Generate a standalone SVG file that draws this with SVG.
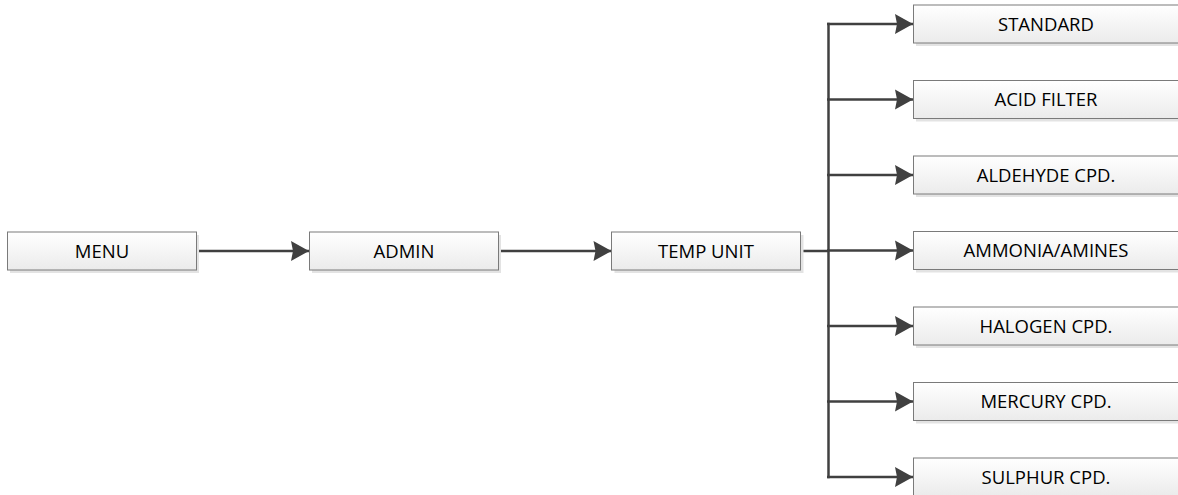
<svg xmlns="http://www.w3.org/2000/svg" width="1178" height="495" viewBox="0 0 1178 495">
<style>
.box{fill:url(#g);stroke:#7a7a7a;stroke-width:1}
.sh{fill:#e3e3e3}
.t{font-family:"Open Sans","Liberation Sans",sans-serif;font-size:18.5px;fill:#000;text-anchor:middle}
.c{fill:none;stroke:#404040;stroke-width:2.5}
</style>
<defs>
<linearGradient id="g" x1="0" y1="0" x2="0" y2="1">
<stop offset="0" stop-color="#ffffff"/>
<stop offset="1" stop-color="#ebebeb"/>
</linearGradient>
<marker id="a" markerUnits="userSpaceOnUse" markerWidth="20" markerHeight="22" refX="18" refY="10" orient="auto" viewBox="0 0 20 22" overflow="visible">
<path d="M0,0 L18,10 L0,20 L2,10 Z" fill="#404040"/>
</marker>
</defs>
<rect width="1178" height="495" fill="#ffffff"/>
<g id="connectors">
<line class="c" x1="196" y1="251" x2="309" y2="251" marker-end="url(#a)"/>
<line class="c" x1="498" y1="251" x2="611.5" y2="251" marker-end="url(#a)"/>
<line class="c" x1="800" y1="251" x2="828.5" y2="251"/>
<line class="c" x1="828.5" y1="22.8" x2="828.5" y2="478.2" stroke-width="3"/>
<line class="c" x1="827" y1="24" x2="913" y2="24" marker-end="url(#a)"/>
<line class="c" x1="827" y1="99.5" x2="913" y2="99.5" marker-end="url(#a)"/>
<line class="c" x1="827" y1="175" x2="913" y2="175" marker-end="url(#a)"/>
<line class="c" x1="827" y1="250.5" x2="913" y2="250.5" marker-end="url(#a)"/>
<line class="c" x1="827" y1="326" x2="913" y2="326" marker-end="url(#a)"/>
<line class="c" x1="827" y1="401.5" x2="913" y2="401.5" marker-end="url(#a)"/>
<line class="c" x1="827" y1="477" x2="913" y2="477" marker-end="url(#a)"/>
</g>
<g id="menu"><rect class="sh" x="10" y="235" width="189" height="38"/><rect class="box" x="7.5" y="232" width="189" height="38"/><text class="t" x="102" y="257.5">MENU</text></g>
<g id="admin"><rect class="sh" x="312" y="235" width="189" height="38"/><rect class="box" x="309.5" y="232" width="189" height="38"/><text class="t" x="404" y="257.5">ADMIN</text></g>
<g id="tempunit"><rect class="sh" x="614.5" y="235" width="189" height="38"/><rect class="box" x="611.5" y="232" width="189" height="38"/><text class="t" x="706" y="257.5">TEMP UNIT</text></g>
<g id="standard"><rect class="sh" x="916" y="8" width="275" height="38"/><rect class="box" x="913.5" y="5" width="275" height="38"/><text class="t" x="1046" y="30.5">STANDARD</text></g>
<g id="acidfilter"><rect class="sh" x="916" y="83.5" width="275" height="38"/><rect class="box" x="913.5" y="80.5" width="275" height="38"/><text class="t" x="1046" y="106">ACID FILTER</text></g>
<g id="aldehyde"><rect class="sh" x="916" y="159" width="275" height="38"/><rect class="box" x="913.5" y="156" width="275" height="38"/><text class="t" x="1046" y="181.5">ALDEHYDE CPD.</text></g>
<g id="ammonia"><rect class="sh" x="916" y="234.5" width="275" height="38"/><rect class="box" x="913.5" y="231.5" width="275" height="38"/><text class="t" x="1046" y="257">AMMONIA/AMINES</text></g>
<g id="halogen"><rect class="sh" x="916" y="310" width="275" height="38"/><rect class="box" x="913.5" y="307" width="275" height="38"/><text class="t" x="1046" y="332.5">HALOGEN CPD.</text></g>
<g id="mercury"><rect class="sh" x="916" y="385.5" width="275" height="38"/><rect class="box" x="913.5" y="382.5" width="275" height="38"/><text class="t" x="1046" y="408">MERCURY CPD.</text></g>
<g id="sulphur"><rect class="sh" x="916" y="461" width="275" height="38"/><rect class="box" x="913.5" y="458" width="275" height="38"/><text class="t" x="1046" y="483.5">SULPHUR CPD.</text></g>
</svg>
